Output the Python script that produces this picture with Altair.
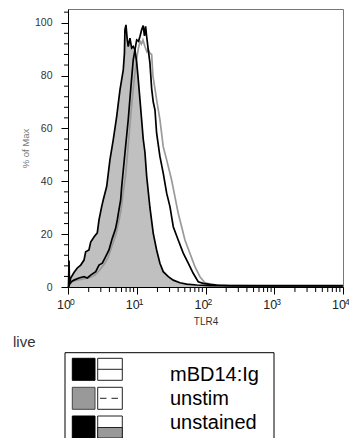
import altair as alt
import pandas as pd

# ---- data (x as log10 of TLR4 intensity, y as % of max) ----
unstained_tlr4_log10 = [0.007, 0.015, 0.022, 0.039, 0.087, 0.135, 0.185, 0.233, 0.257, 0.305,
                        0.330, 0.378, 0.426, 0.451, 0.490, 0.513, 0.5625, 0.610, 0.658, 0.708,
                        0.756, 0.804, 0.821, 0.828, 0.843, 0.862, 0.876, 0.901, 0.926, 0.949,
                        0.974, 0.999, 1.017, 1.047, 1.071, 1.094, 1.119, 1.144, 1.192, 1.240,
                        1.289, 1.337, 1.385, 1.459, 1.531, 1.628, 1.725, 1.871, 2.064, 2.645,
                        3.372, 3.997]
unstained_pct = [0, 10, 1.5, 3.4, 5.5, 7.2, 8.3, 10.2, 13.3, 14.0,
                 17.0, 18.9, 20.5, 25.4, 30.4, 33, 38, 48.1, 55.7, 64.5,
                 74.6, 82.2, 88.5, 97.3, 99.2, 93.5, 91, 94.2, 90.4, 91,
                 89.8, 85, 80, 70.8, 63.3, 56, 51, 42, 30, 20.3,
                 14, 9, 5.8, 3.9, 2.6, 1.6, 1.1, 0.76, 0.5, 0.4,
                 0.4, 0.4]

mbd14_tlr4_log10 = [0.007, 0.029, 0.058, 0.087, 0.160, 0.233, 0.281, 0.330, 0.403, 0.451,
                    0.499, 0.548, 0.596, 0.644, 0.669, 0.693, 0.717, 0.741, 0.766, 0.781,
                    0.828, 0.876, 0.916, 0.949, 0.999, 1.025, 1.047, 1.071, 1.094, 1.112,
                    1.129, 1.144, 1.167, 1.192, 1.217, 1.240, 1.265, 1.289, 1.337, 1.385,
                    1.435, 1.483, 1.531, 1.603, 1.676, 1.749, 1.821, 1.894, 1.967, 2.064,
                    2.161, 2.355, 2.791, 3.372, 3.997]
mbd14_pct = [0, 1.4, 2.2, 2.6, 3.4, 3.9, 3.4, 4.5, 5.8, 8.3,
             9.0, 11.5, 14.0, 18.4, 20.3, 22.2, 25.4, 29.2, 33, 38,
             50.6, 63.3, 76, 86, 93.5, 93, 94.8, 97.3, 98.9, 95,
             98.6, 94.8, 89.8, 84.7, 75, 70, 67, 58.2, 49.4, 43.1,
             35.5, 30.4, 22.8, 17.8, 12.8, 9.0, 5.2, 2.0, 1.4, 1.0,
             0.76, 0.5, 0.5, 0.5, 0.5]

unstim_tlr4_log10 = [0.007, 0.029, 0.058, 0.102, 0.174, 0.247, 0.320, 0.392, 0.465, 0.523,
                     0.581, 0.640, 0.698, 0.741, 0.770, 0.799, 0.836, 0.858, 0.887, 0.916,
                     0.945, 0.974, 1.003, 1.022, 1.047, 1.068, 1.090, 1.119, 1.148, 1.167,
                     1.192, 1.217, 1.235, 1.265, 1.289, 1.337, 1.385, 1.435, 1.507, 1.555,
                     1.603, 1.653, 1.701, 1.773, 1.846, 1.919, 1.991, 2.089, 2.209, 2.791,
                     3.372, 3.997]
unstim_pct = [0, 1, 2, 2.4, 2.8, 3.2, 3.6, 4.5, 6.5, 8.5,
              11, 15.5, 20, 25, 29, 35, 42, 48, 57, 66,
              74, 81, 87, 90, 93, 92, 93.5, 91, 89, 89.8,
              88.5, 88, 80, 75, 70.8, 63.3, 53.1, 48.1, 40.5, 34.2,
              27.9, 22.8, 17.8, 12.8, 7.7, 3.9, 1.6, 1.0, 0.6, 0.4,
              0.4, 0.4]

x_major_ticks = [1, 10, 100, 1000, 10000]
x_tick_exponents = ["0", "1", "2", "3", "4"]
x_minor_ticks = [m * d for d in [1, 10, 100, 1000] for m in range(2, 10)]
y_major_ticks = [0, 20, 40, 60, 80, 100]
y_minor_ticks = [4, 8, 12, 16, 24, 28, 32, 36, 44, 48, 52, 56, 64, 68, 72, 76, 84, 88, 92, 96, 104]

legend_labels = ["mBD14:Ig", "unstim", "unstained"]
gate_label = "live"
x_title = "TLR4"
y_title = "% of Max"

FONT = "Liberation Sans"


def curve_df(logs, pcts, name):
    return pd.DataFrame({"tlr4": [10 ** v for v in logs], "pct": pcts, "sample": name})


df_unstained = curve_df(unstained_tlr4_log10, unstained_pct, legend_labels[2])
df_mbd14 = curve_df(mbd14_tlr4_log10, mbd14_pct, legend_labels[0])
df_unstim = curve_df(unstim_tlr4_log10, unstim_pct, legend_labels[1])

x_scale = alt.Scale(type="log", domain=[1, 10000], nice=False)
y_scale = alt.Scale(domain=[0, 105.2], nice=False, zero=False)

x_axis = alt.Axis(
    values=x_major_ticks,
    labelExpr="'10'",
    tickSize=7, tickColor="black", domainColor="black", grid=False,
    labelFont=FONT, labelFontSize=12.5, labelColor="#222", labelPadding=4,
    labelOffset=-4.5, labelFlush=False, labelOverlap=False,
    title=x_title, titleFont=FONT, titleFontSize=10, titleFontWeight="normal",
    titleColor="#333", titleY=29, titleBaseline="top",
)
y_axis = alt.Axis(
    values=y_major_ticks,
    tickSize=7, tickColor="black", domainColor="black", grid=False,
    labelFont=FONT, labelFontSize=10.5, labelColor="#333", labelPadding=9,
    labelFlush=False, labelOverlap=False,
    title=y_title, titleFont=FONT, titleFontSize=9.5, titleFontWeight="normal",
    titleColor="#777", titleX=-43, titleY=139, titleAngle=-90,
    titleAlign="center", titleBaseline="middle",
)

X = alt.X("tlr4:Q", scale=x_scale, axis=x_axis)
Y = alt.Y("pct:Q", scale=y_scale, axis=y_axis)

fill_layer = alt.Chart(df_unstained).mark_area(color="#c0c0c0").encode(x=X, y=Y)
unstim_line = alt.Chart(df_unstim).mark_line(color="#9a9a9a", strokeWidth=1.7).encode(x=X, y=Y)
mbd14_line = alt.Chart(df_mbd14).mark_line(color="black", strokeWidth=1.7).encode(x=X, y=Y)
unstained_line = alt.Chart(df_unstained).mark_line(color="black", strokeWidth=1.7).encode(x=X, y=Y)

x_minor = alt.Chart(pd.DataFrame({"tlr4": x_minor_ticks})).mark_rule(
    color="black", strokeWidth=1
).encode(x=X, y=alt.value(278), y2=alt.value(283))
y_minor = alt.Chart(pd.DataFrame({"pct": y_minor_ticks})).mark_rule(
    color="black", strokeWidth=1
).encode(y=Y, x=alt.value(-4), x2=alt.value(0))

# superscript exponents of the decade labels
x_sup = alt.Chart(pd.DataFrame({"tlr4": x_major_ticks, "exp": x_tick_exponents})).mark_text(
    align="left", baseline="alphabetic", font=FONT, fontSize=8.5, color="#222", dx=2
).encode(x=X, y=alt.value(296), text="exp:N")

one = pd.DataFrame({"k": [0]})
deco = []
deco.append(alt.Chart(one).mark_text(
    align="left", baseline="alphabetic", font=FONT, fontSize=15, color="#333"
).encode(x=alt.value(-55), y=alt.value(337.5), text=alt.value(gate_label)))

# legend frame
deco.append(alt.Chart(one).mark_rect(fill="white", stroke="black", strokeWidth=1).encode(
    x=alt.value(-3), x2=alt.value(206), y=alt.value(343.7), y2=alt.value(460)))

row_tops = [349.3, 378.3, 407.0]
text_baselines = [372.0, 396.0, 420.0]
sq_fill = ["black", "#999999", "black"]
sq_stroke = ["black", "#444444", "black"]
for i, lab in enumerate(legend_labels):
    top = row_tops[i]
    deco.append(alt.Chart(one).mark_rect(fill=sq_fill[i], stroke=sq_stroke[i], strokeWidth=1).encode(
        x=alt.value(4.3), x2=alt.value(27), y=alt.value(top), y2=alt.value(top + 22)))
    deco.append(alt.Chart(one).mark_rect(fill="white", stroke="#222", strokeWidth=1).encode(
        x=alt.value(29.7), x2=alt.value(54.3), y=alt.value(top), y2=alt.value(top + 22)))
    if i == 0:
        deco.append(alt.Chart(one).mark_rule(color="#222", strokeWidth=1).encode(
            x=alt.value(29.7), x2=alt.value(54.3), y=alt.value(top + 11)))
    elif i == 1:
        deco.append(alt.Chart(one).mark_rule(color="#222", strokeWidth=1, strokeDash=[6.5, 5]).encode(
            x=alt.value(32), x2=alt.value(52), y=alt.value(top + 11)))
    else:
        deco.append(alt.Chart(one).mark_rect(fill="#999999", stroke="#222", strokeWidth=1).encode(
            x=alt.value(29.7), x2=alt.value(54.3), y=alt.value(top + 11.5), y2=alt.value(top + 22)))
    deco.append(alt.Chart(one).mark_text(
        align="left", baseline="alphabetic", font=FONT, fontSize=20, color="black"
    ).encode(x=alt.value(102), y=alt.value(text_baselines[i]), text=alt.value(lab)))

chart = alt.layer(
    fill_layer, unstim_line, mbd14_line, unstained_line, x_minor, y_minor, x_sup, *deco
).properties(
    width=275, height=278,
    autosize=alt.AutoSizeParams(type="none"),
    padding={"left": 68, "top": 9, "right": 6, "bottom": 151},
    background="white",
).configure_view(stroke="#777", strokeWidth=1)

chart.save("out.html", embed_options={"renderer": "svg", "actions": False})
